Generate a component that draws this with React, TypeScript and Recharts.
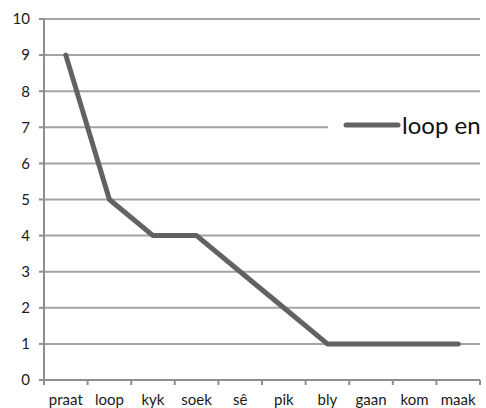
import { LineChart, Line, XAxis, YAxis, CartesianGrid, Legend } from 'recharts'

const categories = ['praat', 'loop', 'kyk', 'soek', 'sê', 'pik', 'bly', 'gaan', 'kom', 'maak']
const values = [9, 5, 4, 4, 3, 2, 1, 1, 1, 1]
const yTicks = [0, 1, 2, 3, 4, 5, 6, 7, 8, 9, 10]
const seriesName = 'loop en'

const data = categories.map((c, i) => ({ name: c, value: values[i] }))

const AXIS = '#8e8e8e'
const GRID = '#a3a3a3'
const LINE = '#626262'
const FONT = 'Lato, "Liberation Sans", sans-serif'

// labels sit in the middle of each band, tick marks on the band edges
function XTick(props: any) {
  const { x, y, payload, index, width, visibleTicksCount } = props
  const half = width / visibleTicksCount / 2
  const axisY = y - 14
  return (
    <g>
      <line x1={x - half} x2={x - half} y1={axisY} y2={axisY + 5} stroke={AXIS} strokeWidth={2} />
      {index === visibleTicksCount - 1 && (
        <line x1={x + half} x2={x + half} y1={axisY} y2={axisY + 5} stroke={AXIS} strokeWidth={2} />
      )}
      <text x={x} y={y} dy="0.71em" textAnchor="middle" fill="#1a1a1a" fontSize={15} fontFamily={FONT}>
        {payload.value}
      </text>
    </g>
  )
}

function LegendBox({ payload }: any) {
  return (
    <div style={{ display: 'flex', alignItems: 'center', height: '100%', background: '#fff' }}>
      {payload.map((p: any) => (
        <div key={p.value} style={{ display: 'flex', alignItems: 'center', marginLeft: 15 }}>
          <svg width={58} height={8}>
            <line x1={3} x2={55} y1={4} y2={4} stroke={LINE} strokeWidth={5} strokeLinecap="round" />
          </svg>
          <span style={{ fontFamily: FONT, fontSize: 24, color: '#111', marginLeft: 1, lineHeight: 1 }}>{p.value}</span>
        </div>
      ))}
    </div>
  )
}

export default function App() {
  return (
    <div style={{ position: 'absolute', left: 0, top: 0, width: 486, height: 408, background: '#fff' }}>
      <LineChart width={486} height={408} data={data} margin={{ top: 19, right: 6, left: 0, bottom: 0 }}>
        <CartesianGrid vertical={false} stroke={GRID} strokeWidth={2} />
        <XAxis
          dataKey="name"
          scale="band"
          height={28}
          axisLine={{ stroke: AXIS, strokeWidth: 2 }}
          tickLine={false}
          tickSize={5}
          tickMargin={9}
          interval={0}
          tick={<XTick />}
        />
        <YAxis
          width={44}
          domain={[0, 10]}
          ticks={yTicks}
          interval={0}
          axisLine={{ stroke: AXIS, strokeWidth: 2 }}
          tickLine={{ stroke: AXIS, strokeWidth: 2 }}
          tickSize={5}
          tickMargin={9}
          tick={{ fill: '#1a1a1a', fontSize: 15, fontFamily: FONT }}
        />
        <Legend
          layout="horizontal"
          verticalAlign="middle"
          align="center"
          content={<LegendBox />}
          wrapperStyle={{ left: 328, top: 108, width: 158, height: 34 }}
        />
        <Line
          type="linear"
          dataKey="value"
          name={seriesName}
          stroke={LINE}
          strokeWidth={5}
          strokeLinecap="round"
          strokeLinejoin="round"
          dot={false}
          activeDot={false}
          isAnimationActive={false}
        />
      </LineChart>
    </div>
  )
}
